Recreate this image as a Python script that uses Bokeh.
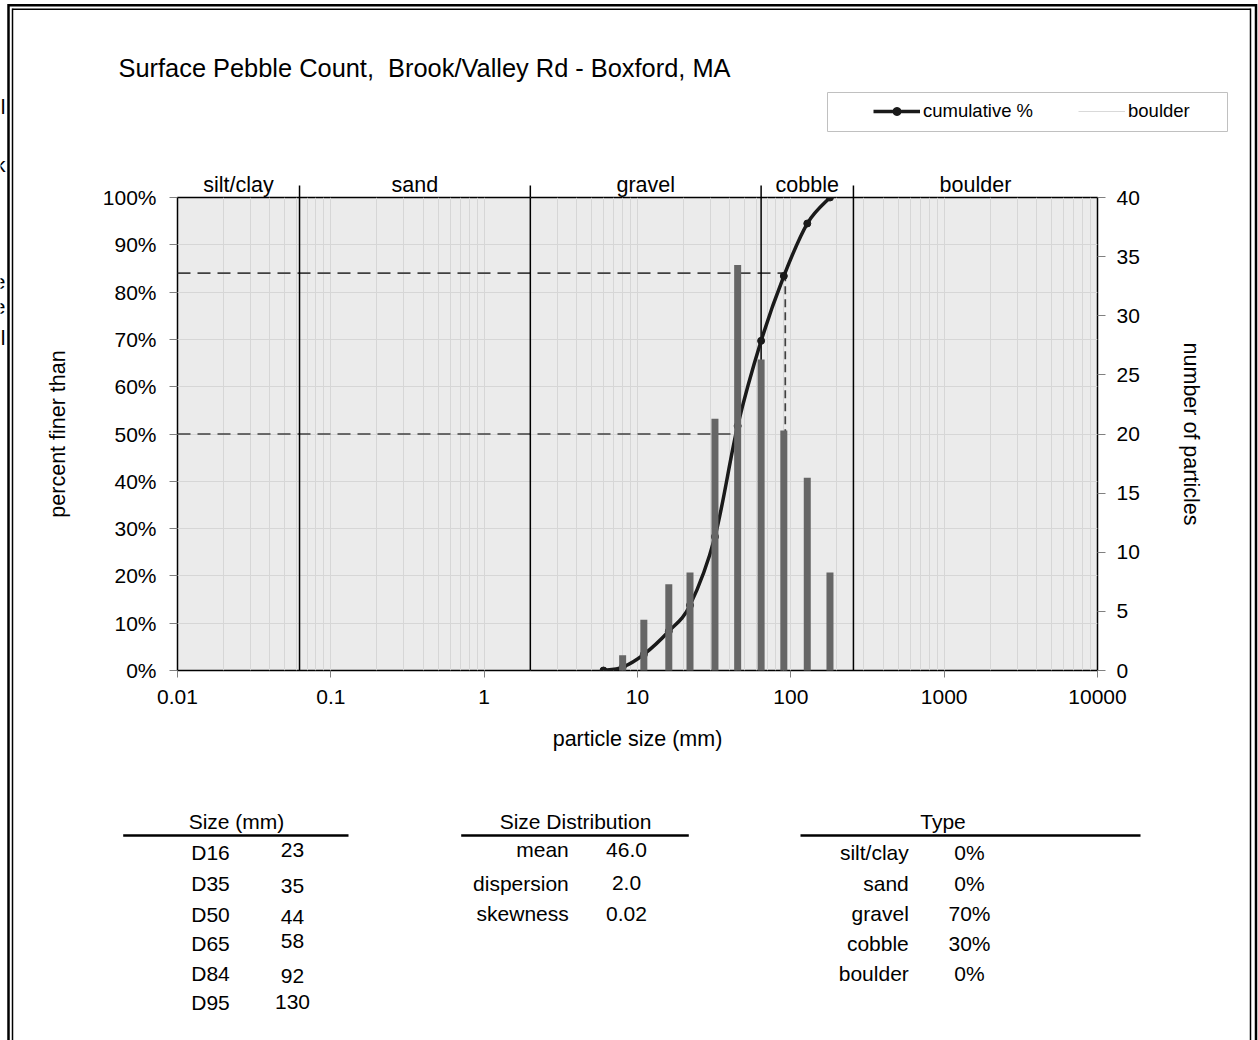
import numpy as np
from bokeh.plotting import figure
from bokeh.models import (Range1d, LinearAxis, FixedTicker, NumeralTickFormatter,
                          CustomJSTickFormatter, Legend, LegendItem, GridBox, LogScale)
from bokeh.embed import file_html
from bokeh.resources import INLINE
from bokeh.core.properties import value

# ---------------- data ----------------
title_text = "Surface Pebble Count,\u00a0 Brook/Valley Rd - Boxford, MA"
curve_size = [6, 8, 11, 16, 22, 32, 45, 64, 90, 128, 180]
curve_pct = [0.0, 0.007, 0.034, 0.083, 0.138, 0.283, 0.517, 0.697, 0.834, 0.945, 1.0]
bar_size = [8, 11, 16, 22, 32, 45, 64, 90, 128, 180]
bar_count = [1, 4, 7, 8, 21, 34, 26, 20, 16, 8]
class_names = ["silt/clay", "sand", "gravel", "cobble", "boulder"]
class_bounds = [0.01, 0.0625, 2, 64, 256, 10000]
pct_marks = [0.5, 0.84]
pct_sizes = [44, 92]
x_ticks = [0.01, 0.1, 1, 10, 100, 1000, 10000]
y_ticks = [i / 10 for i in range(11)]
count_ticks = list(range(0, 41, 5))
d_labels = ["D16", "D35", "D50", "D65", "D84", "D95"]
d_values = ["23", "35", "44", "58", "92", "130"]
dist_labels = ["mean", "dispersion", "skewness"]
dist_values = ["46.0", "2.0", "0.02"]
type_labels = ["silt/clay", "sand", "gravel", "cobble", "boulder"]
type_values = ["0%", "0%", "70%", "30%", "0%"]
edge_frags = ["l", "k", "e", "e", "l"]

# ---------------- page geometry ----------------
FONT = "Liberation Sans"
W, H = 1258, 1040
FL, FR, FT, FB = 177, 1097, 197, 670          # plot frame in page pixels
DEC = (FR - FL) / 6.0                         # pixels per decade

# ================= decoration layer (page-pixel coordinates) =================
deco = figure(width=W, height=H, output_backend="svg", toolbar_location=None,
              x_axis_location=None, y_axis_location=None, min_border=0,
              x_range=Range1d(0, W), y_range=Range1d(H, 0))
deco.frame_align = False
deco.outline_line_color = None
deco.background_fill_color = "white"
deco.border_fill_color = "white"
deco.grid.visible = False
lo = 10 ** (np.log10(x_ticks[0]) - FL / DEC)
hi = 10 ** (np.log10(x_ticks[0]) + (W - FL) / DEC)
deco.extra_x_ranges = {"logx": Range1d(lo, hi)}
deco.extra_x_scales = {"logx": LogScale()}


def texts(xs, ys, t, align="center", size="21px", baseline="middle", xr="default"):
    deco.text(x=xs, y=ys, text=t, text_align=align, text_baseline=baseline,
              text_font=value(FONT), text_font_size=size, text_color="black", x_range_name=xr)


# double frame round the page
deco.segment(x0=[8, 8, 1255.5], y0=[4.7, 3.5, 3.5], x1=[1255.5, 8, 1255.5], y1=[4.7, H, H],
             line_color="black", line_width=2.5)
deco.segment(x0=[12, 12, 1250], y0=[8.7, 8, 8], x1=[1250, 12, 1250], y1=[8.7, H, H],
             line_color="black", line_width=1.5)

# title
texts([118], [67], [title_text], align="left", size="25.4px")

# legend box and legend (styled like the chart series)
deco.quad(left=[827], right=[1227], top=[92], bottom=[131], fill_color="white",
          line_color="#c0c0c0", line_width=1)
nan = float("nan")
leg_line = deco.line(x=[nan], y=[nan], line_color="#1a1a1a", line_width=3.5)
leg_dot = deco.scatter(x=[nan], y=[nan], size=7, color="#1a1a1a")
leg_boulder = deco.line(x=[nan], y=[nan], line_color="#d9d9d9", line_width=1)
legend = Legend(items=[LegendItem(label="cumulative %", renderers=[leg_line, leg_dot]),
                       LegendItem(label="boulder", renderers=[leg_boulder])],
                orientation="horizontal", location=(873, H - 122),
                border_line_color=None, background_fill_alpha=0,
                padding=0, margin=0, spacing=45, glyph_width=47, glyph_height=20,
                label_standoff=3, label_text_font=FONT, label_text_font_size="18.5px",
                label_text_color="black")
deco.add_layout(legend)

# class names and the tops of the class boundaries
mids = [float(np.sqrt(class_bounds[i] * class_bounds[i + 1])) for i in range(len(class_names))]
texts(mids, [184.5] * len(mids), class_names, size="21.5px", xr="logx")
inner_bounds = class_bounds[1:-1]
deco.segment(x0=inner_bounds, y0=[185] * len(inner_bounds), x1=inner_bounds,
             y1=[FT] * len(inner_bounds), line_color="black", line_width=1.5, x_range_name="logx")

# clipped text fragments at the far left edge
texts([5] * 5, [106, 164, 281, 306, 337], edge_frags, align="right")

# tables under the chart
texts([236, 575, 942.5], [821, 820.5, 821], ["Size (mm)", "Size Distribution", "Type"])
deco.quad(left=[122.7, 460.7, 800], right=[348, 688.3, 1140], top=[833.8] * 3, bottom=[836.2] * 3,
          fill_color="black", line_color=None)
texts([210] * 6, [851.7, 882.7, 914, 943.3, 972.7, 1001.7], d_labels)
texts([292] * 6, [849, 885, 916, 940.7, 975, 1001.7], d_values)
texts([568.3] * 3, [849.3, 882.7, 913.3], dist_labels, align="right")
texts([626] * 3, [849.3, 882.7, 913.3], dist_values)
texts([908.3] * 5, [851.7, 882.7, 913.3, 943.3, 973.3], type_labels, align="right")
texts([969] * 5, [851.7, 882.7, 913.3, 943.3, 973.3], type_values)

# ================= chart layer =================
p = figure(width=W, height=H, x_axis_type="log",
           x_range=Range1d(x_ticks[0], x_ticks[-1]), y_range=Range1d(0, 1),
           output_backend="svg", toolbar_location=None,
           min_border_left=FL, min_border_right=W - FR,
           min_border_top=FT, min_border_bottom=H - FB)
p.frame_align = False
p.extra_y_ranges = {"count": Range1d(0, 40)}
p.background_fill_color = "#ebebeb"
p.border_fill_alpha = 0
p.outline_line_color = "black"
p.outline_line_width = 1.5

minor = [d * k for d in x_ticks[:-1] for k in range(2, 10)]
p.xaxis.ticker = FixedTicker(ticks=x_ticks, minor_ticks=minor)
p.xaxis.formatter = CustomJSTickFormatter(code="return String(tick)")
p.yaxis.ticker = FixedTicker(ticks=y_ticks)
p.yaxis.formatter = NumeralTickFormatter(format="0%")
p.xgrid.grid_line_color = "#d6d6d6"
p.xgrid.minor_grid_line_color = "#d6d6d6"
p.ygrid.grid_line_color = "#d6d6d6"

raxis = LinearAxis(y_range_name="count", ticker=FixedTicker(ticks=count_ticks))
p.add_layout(raxis, "right")

p.xaxis.axis_label = "particle size (mm)"
p.yaxis.axis_label = "percent finer than"
raxis.axis_label = "number of particles"

for ax, tick_out, standoff, lab_standoff in ((p.xaxis[0], 7, 12, 20),
                                             (p.yaxis[0], 8, 13, 30),
                                             (raxis, 8, 11, 36)):
    ax.axis_line_color = None
    ax.major_tick_out = tick_out
    ax.major_tick_in = 0
    ax.minor_tick_line_color = None
    ax.major_tick_line_color = "#808080"
    ax.major_label_text_font = FONT
    ax.major_label_text_font_size = "21px"
    ax.major_label_text_color = "black"
    ax.major_label_standoff = standoff
    ax.axis_label_text_font = FONT
    ax.axis_label_text_font_size = "21.5px"
    ax.axis_label_text_font_style = "normal"
    ax.axis_label_text_color = "black"
    ax.axis_label_standoff = lab_standoff

# percentile guide lines
p.segment(x0=[x_ticks[0]] * len(pct_marks), y0=pct_marks, x1=pct_sizes, y1=pct_marks,
          line_color="#404040", line_width=1.7, line_dash="13 7")
p.segment(x0=pct_sizes, y0=pct_marks, x1=pct_sizes, y1=[0] * len(pct_marks),
          line_color="#404040", line_width=1.7, line_dash="8 5")

# class boundaries
p.segment(x0=inner_bounds, y0=[0] * len(inner_bounds), x1=inner_bounds, y1=[1] * len(inner_bounds),
          line_color="black", line_width=1.5)

# cumulative curve, smoothed with cubic bezier segments in log-x space
lx = np.log10(np.array(curve_size, dtype=float))
yy = np.array(curve_pct, dtype=float)
n = len(lx)
seg = dict(x0=[], y0=[], x1=[], y1=[], cx0=[], cy0=[], cx1=[], cy1=[])
for i in range(n - 1):
    im1, ip2 = max(i - 1, 0), min(i + 2, n - 1)
    seg["x0"].append(10 ** lx[i]); seg["y0"].append(yy[i])
    seg["x1"].append(10 ** lx[i + 1]); seg["y1"].append(yy[i + 1])
    seg["cx0"].append(10 ** (lx[i] + (lx[i + 1] - lx[im1]) / 6))
    seg["cy0"].append(yy[i] + (yy[i + 1] - yy[im1]) / 6)
    seg["cx1"].append(10 ** (lx[i + 1] - (lx[ip2] - lx[i]) / 6))
    seg["cy1"].append(yy[i + 1] - (yy[ip2] - yy[i]) / 6)
p.bezier(line_color="#1a1a1a", line_width=3.5, **seg)
p.scatter(curve_size, curve_pct, size=7, color="#1a1a1a")

# particle counts
p.segment(x0=bar_size, y0=[0] * len(bar_size), x1=bar_size, y1=bar_count,
          y_range_name="count", line_color="#666666", line_width=7, line_cap="square")

page = GridBox(children=[(deco, 0, 0), (p, 0, 0)])
open("out.html", "w").write(file_html(page, INLINE))
